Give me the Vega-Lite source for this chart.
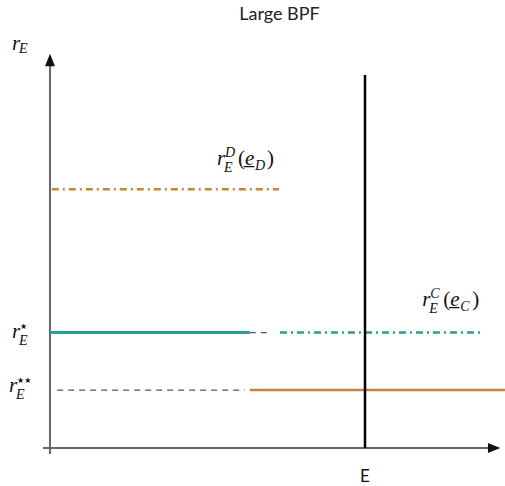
{
  "$schema": "https://vega.github.io/schema/vega-lite/v6.json",
  "width": 505,
  "height": 456,
  "autosize": {"type": "none"},
  "padding": {"left": 0, "right": 0, "top": 30, "bottom": 0},
  "background": "white",
  "title": {"text": "Large BPF", "font": "Lato", "fontSize": 18, "fontWeight": "normal", "color": "#222", "anchor": "middle", "dx": 27, "offset": 6},
  "config": {"view": {"stroke": null}},
  "datasets": {
    "segs": [
      {"series": "yaxis", "x": 0, "x2": 0, "y": -0.15, "y2": 9.72},
      {"series": "xaxis", "x": -0.155, "x2": 9.75, "y": 0, "y2": 0},
      {"series": "rD", "x": 0.04, "x2": 5.09, "y": 6.57, "y2": 6.57},
      {"series": "rStarSolid", "x": 0, "x2": 4.44, "y": 2.93, "y2": 2.93},
      {"series": "rStarDash", "x": 4.44, "x2": 4.84, "y": 2.93, "y2": 2.93},
      {"series": "rC", "x": 5.11, "x2": 9.56, "y": 2.93, "y2": 2.93},
      {"series": "rStar2Dash", "x": 0.16, "x2": 4.33, "y": 1.47, "y2": 1.47},
      {"series": "rStar2Solid", "x": 4.44, "x2": 10.11, "y": 1.47, "y2": 1.47},
      {"series": "E", "x": 7, "x2": 7, "y": 0, "y2": 9.47}
    ],
    "arrows": [
      {"dir": "up", "x": 0, "y": 9.85},
      {"dir": "right", "x": 9.87, "y": 0}
    ],
    "labels": [
      {"id": "rE", "x": -0.844, "y": 10.1, "base": "r", "sub": "E"},
      {"id": "rStar", "x": -0.844, "y": 2.79, "base": "r", "sub": "E", "stars": "★"},
      {"id": "rStar2", "x": -0.911, "y": 1.42, "base": "r", "sub": "E", "stars": "★★"},
      {"id": "rD", "x": 3.71, "y": 7.18, "base": "r", "sub": "E", "sup": "D", "arg": "D"},
      {"id": "rC", "x": 8.27, "y": 3.6, "base": "r", "sub": "E", "sup": "C", "arg": "C"}
    ],
    "xlabel": [{"x": 7, "y": -0.74, "text": "E"}]
  },
  "encoding": {
    "x": {"field": "x", "type": "quantitative", "scale": {"domain": [-1.111, 10.111], "nice": false, "zero": false}, "axis": null},
    "y": {"field": "y", "type": "quantitative", "scale": {"domain": [-0.9645, 10.609], "nice": false, "zero": false}, "axis": null}
  },
  "layer": [
    {"data": {"name": "segs"}, "transform": [{"filter": "datum.series == 'yaxis' || datum.series == 'xaxis'"}],
     "mark": {"type": "rule", "color": "#666", "strokeWidth": 2},
     "encoding": {"x2": {"field": "x2"}, "y2": {"field": "y2"}}},
    {"data": {"name": "arrows"}, "transform": [{"filter": "datum.dir == 'up'"}],
     "mark": {"type": "point", "shape": "M0,-1L-0.8,1L0.8,1Z", "filled": true, "size": 156, "color": "#111", "opacity": 1, "strokeWidth": 0}},
    {"data": {"name": "arrows"}, "transform": [{"filter": "datum.dir == 'right'"}],
     "mark": {"type": "point", "shape": "M1,0L-1,-0.8L-1,0.8Z", "filled": true, "size": 156, "color": "#111", "opacity": 1, "strokeWidth": 0}},
    {"data": {"name": "segs"}, "transform": [{"filter": "datum.series == 'rStarDash' || datum.series == 'rStar2Dash'"}],
     "mark": {"type": "rule", "color": "#555", "strokeWidth": 1.2, "strokeDash": [6, 5]},
     "encoding": {"x2": {"field": "x2"}, "y2": {"field": "y2"}}},
    {"data": {"name": "segs"}, "transform": [{"filter": "datum.series == 'rStarSolid'"}],
     "mark": {"type": "rule", "color": "#2a9d94", "strokeWidth": 3},
     "encoding": {"x2": {"field": "x2"}, "y2": {"field": "y2"}}},
    {"data": {"name": "segs"}, "transform": [{"filter": "datum.series == 'rStar2Solid'"}],
     "mark": {"type": "rule", "color": "#c8843f", "strokeWidth": 2.5},
     "encoding": {"x2": {"field": "x2"}, "y2": {"field": "y2"}}},
    {"data": {"name": "segs"}, "transform": [{"filter": "datum.series == 'rC'"}],
     "mark": {"type": "rule", "color": "#2a9d94", "strokeWidth": 2.5, "strokeDash": [7, 4, 2, 4]},
     "encoding": {"x2": {"field": "x2"}, "y2": {"field": "y2"}}},
    {"data": {"name": "segs"}, "transform": [{"filter": "datum.series == 'rD'"}],
     "mark": {"type": "rule", "color": "#c8843f", "strokeWidth": 2.5, "strokeDash": [7, 4, 2, 4]},
     "encoding": {"x2": {"field": "x2"}, "y2": {"field": "y2"}}},
    {"data": {"name": "segs"}, "transform": [{"filter": "datum.series == 'E'"}],
     "mark": {"type": "rule", "color": "#000", "strokeWidth": 2.5},
     "encoding": {"x2": {"field": "x2"}, "y2": {"field": "y2"}}},
    {"data": {"name": "labels"},
     "mark": {"type": "text", "font": "Liberation Serif", "fontStyle": "italic", "fontSize": 21, "align": "left", "baseline": "alphabetic", "color": "#111"},
     "encoding": {"text": {"field": "base"}}},
    {"data": {"name": "labels"}, "transform": [{"filter": "!datum.sup && !datum.stars"}],
     "mark": {"type": "text", "font": "Liberation Serif", "fontStyle": "italic", "fontSize": 14, "align": "left", "baseline": "alphabetic", "dx": 7, "dy": 3, "color": "#111"},
     "encoding": {"text": {"field": "sub"}}},
    {"data": {"name": "labels"}, "transform": [{"filter": "datum.sup || datum.stars"}],
     "mark": {"type": "text", "font": "Liberation Serif", "fontStyle": "italic", "fontSize": 14, "align": "left", "baseline": "alphabetic", "dx": 7, "dy": 7, "color": "#111"},
     "encoding": {"text": {"field": "sub"}}},
    {"data": {"name": "labels"}, "transform": [{"filter": "datum.sup"}],
     "mark": {"type": "text", "font": "Liberation Serif", "fontStyle": "italic", "fontSize": 14, "align": "left", "baseline": "alphabetic", "dx": 8, "dy": -8, "color": "#111"},
     "encoding": {"text": {"field": "sup"}}},
    {"data": {"name": "labels"}, "transform": [{"filter": "datum.stars"}],
     "mark": {"type": "text", "font": "DejaVu Sans", "fontSize": 8, "align": "left", "baseline": "alphabetic", "dx": 8, "dy": -9, "color": "#111"},
     "encoding": {"text": {"field": "stars"}}},
    {"data": {"name": "labels"}, "transform": [{"filter": "datum.arg"}],
     "mark": {"type": "text", "font": "Liberation Serif", "fontSize": 21, "align": "left", "baseline": "alphabetic", "dx": 21, "color": "#111"},
     "encoding": {"text": {"value": "("}}},
    {"data": {"name": "labels"}, "transform": [{"filter": "datum.arg"}],
     "mark": {"type": "text", "font": "Liberation Serif", "fontStyle": "italic", "fontSize": 21, "align": "left", "baseline": "alphabetic", "dx": 28, "color": "#111"},
     "encoding": {"text": {"value": "e̲"}}},
    {"data": {"name": "labels"}, "transform": [{"filter": "datum.arg"}],
     "mark": {"type": "text", "font": "Liberation Serif", "fontStyle": "italic", "fontSize": 14, "align": "left", "baseline": "alphabetic", "dx": 38, "dy": 5, "color": "#111"},
     "encoding": {"text": {"field": "arg"}}},
    {"data": {"name": "labels"}, "transform": [{"filter": "datum.arg"}],
     "mark": {"type": "text", "font": "Liberation Serif", "fontSize": 21, "align": "left", "baseline": "alphabetic", "dx": 50, "color": "#111"},
     "encoding": {"text": {"value": ")"}}},
    {"data": {"name": "xlabel"},
     "mark": {"type": "text", "font": "Lato", "fontSize": 17, "align": "center", "baseline": "middle", "color": "#111"},
     "encoding": {"text": {"field": "text"}}}
  ]
}
